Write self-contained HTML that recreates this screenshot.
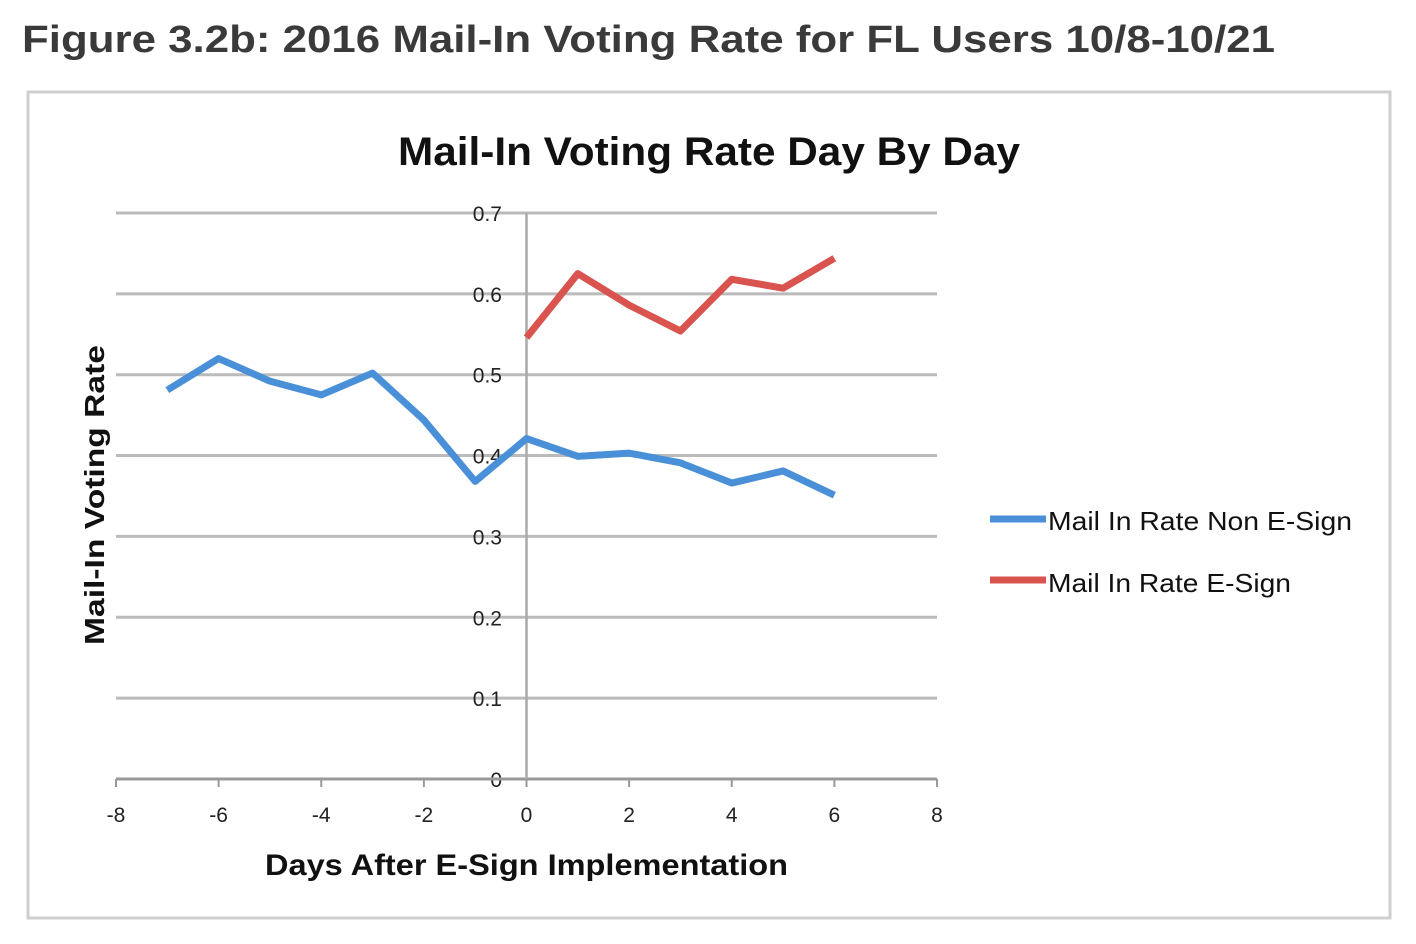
<!DOCTYPE html>
<html><head><meta charset="utf-8"><style>
html,body{margin:0;padding:0;background:#fff;width:1416px;height:944px;overflow:hidden;font-family:"Liberation Sans",sans-serif}
</style></head><body>
<svg width="1416" height="944">
<text x="22" y="52" font-size="38" font-weight="bold" fill="#3a3a3a" textLength="1253" lengthAdjust="spacingAndGlyphs">Figure 3.2b: 2016 Mail-In Voting Rate for FL Users 10/8-10/21</text>
<rect x="28" y="92" width="1362" height="826" fill="#fff" stroke="#cfcfcf" stroke-width="3"/>
<text x="398" y="165" font-size="40" font-weight="bold" fill="#111" textLength="622" lengthAdjust="spacingAndGlyphs">Mail-In Voting Rate Day By Day</text>
<g id="grid"></g><g id="axes"></g><g id="series"></g>
<text transform="translate(104,645) rotate(-90)" font-size="28" font-weight="bold" fill="#111" textLength="300" lengthAdjust="spacingAndGlyphs">Mail-In Voting Rate</text>
<text x="265" y="875" font-size="30" font-weight="bold" fill="#111" textLength="523" lengthAdjust="spacingAndGlyphs">Days After E-Sign Implementation</text>
<g>
<line x1="990" y1="519" x2="1046" y2="519" stroke="#4a90d9" stroke-width="7"/>
<text x="1048" y="530" font-size="26" fill="#111" textLength="304" lengthAdjust="spacingAndGlyphs">Mail In Rate Non E-Sign</text>
<line x1="990" y1="580" x2="1046" y2="580" stroke="#d9534f" stroke-width="7"/>
<text x="1048" y="592" font-size="26" fill="#111" textLength="243" lengthAdjust="spacingAndGlyphs">Mail In Rate E-Sign</text>
</g>
</svg>
<script>
const xTicks=[-8,-6,-4,-2,0,2,4,6,8];
const yTicks=[0,0.1,0.2,0.3,0.4,0.5,0.6,0.7];
const daysNon=[-7,-6,-5,-4,-3,-2,-1,0,1,2,3,4,5,6];
const valuesNon=[0.481,0.520,0.492,0.475,0.502,0.444,0.368,0.421,0.399,0.403,0.391,0.366,0.381,0.351];
const daysE=[0,1,2,3,4,5,6];
const valuesE=[0.546,0.625,0.586,0.554,0.618,0.607,0.644];
const NS="http://www.w3.org/2000/svg";
const X=v=>526.5+v*51.3125, Y=v=>779-v*808.6;
function mk(t,a,p){const e=document.createElementNS(NS,t);for(const k in a)e.setAttribute(k,a[k]);p.appendChild(e);return e;}
const g=document.getElementById('grid'),ax=document.getElementById('axes'),s=document.getElementById('series');
yTicks.forEach(v=>{
 if(v>0){const l=mk('line',{x1:116,x2:937,y1:Y(v),y2:Y(v),stroke:'#bbb','stroke-width':3},g);
 
 }
 const t=mk('text',{x:502,y:Y(v)+8,'font-size':21,'text-anchor':'end',fill:'#222'},ax);t.textContent=v;
 
 
});
const xa=mk('line',{x1:116,x2:937,y1:779,y2:779,stroke:'#999','stroke-width':3},ax);


const ya=mk('line',{x1:X(0),x2:X(0),y1:213,y2:779,stroke:'#aaa','stroke-width':2.5},ax);


xTicks.forEach(v=>{
 mk('line',{x1:X(v),x2:X(v),y1:779,y2:787,stroke:'#999','stroke-width':2},ax);
 const t=mk('text',{x:X(v),y:822,'font-size':21,'text-anchor':'middle',fill:'#222'},ax);t.textContent=v;
 
 
});
function line(xs,ys,c,n){
 const p=mk('polyline',{points:xs.map((x,i)=>X(x)+','+Y(ys[i])).join(' '),fill:'none',stroke:c,'stroke-width':7,'stroke-linejoin':'round'},s);
 
 
}
line(daysNon,valuesNon,'#4a90d9','series-non-esign');
line(daysE,valuesE,'#d9534f','series-esign');
</script>
</body></html>
